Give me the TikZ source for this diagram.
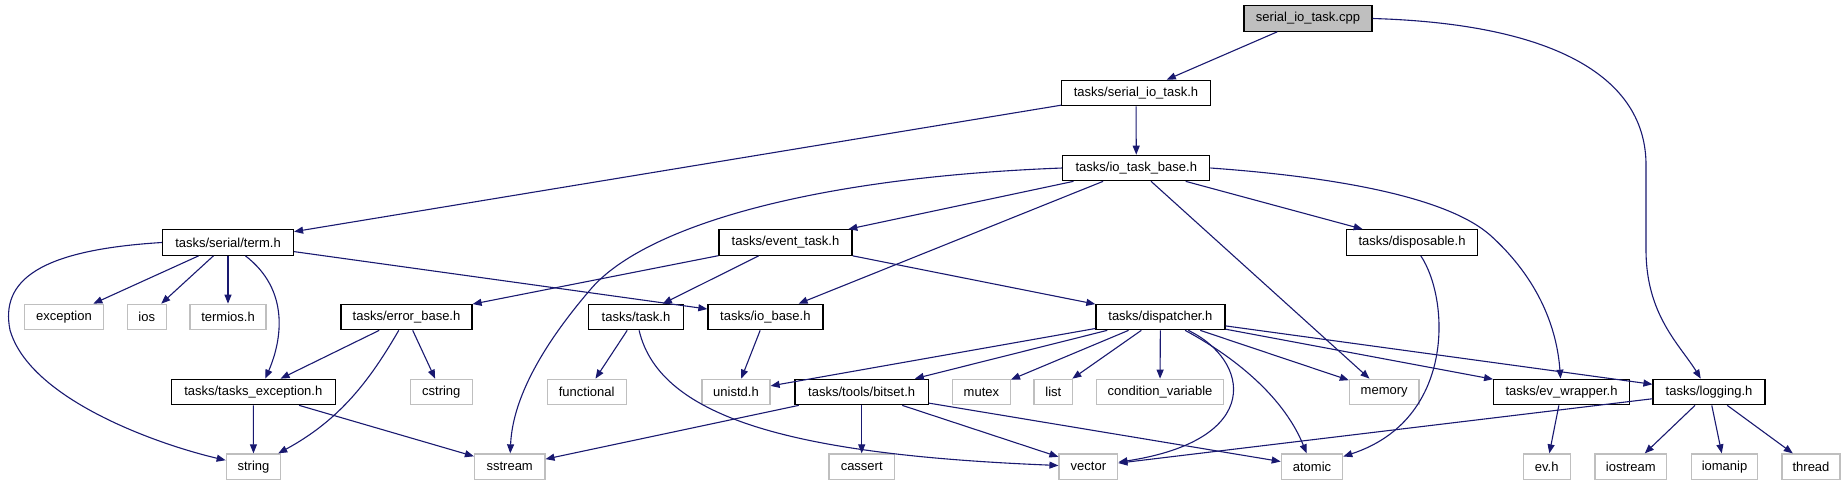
\documentclass[tikz,border=0pt]{standalone}
\usepackage{fontspec}
\setmainfont{Liberation Sans}
\usepackage{xcolor}
\usetikzlibrary{arrows.meta, positioning}

\definecolor{edgeblue}{HTML}{191970}
\definecolor{sysgray}{HTML}{BFBFBF}

\begin{document}
\begin{tikzpicture}[
    x=1pt, y=-1pt,
    hdr/.style={rectangle, draw=black, fill=white, line width=1.2pt, minimum height=25.5pt, inner sep=0pt, font=\fontsize{13}{15}\selectfont},
    sys/.style={hdr, draw=sysgray},
    top/.style={hdr, fill=sysgray},
    dep/.style={-{Triangle[length=9pt,width=7pt]}, line width=1.1pt, draw=edgeblue}
]
    \useasboundingbox (0,0) rectangle (1846,485);

    % Row 0 and 1
    \node[top, minimum width=128pt] (cpp) at (1308,18.5) {serial\_io\_task.cpp};
    \node[hdr, minimum width=149pt] (sio) at (1136,93) {tasks/serial\_io\_task.h};
    \node[hdr, minimum width=147pt] (iotb) at (1136.3,168) {tasks/io\_task\_base.h};

    % Row 3
    \node[hdr, minimum width=131pt] (term) at (228,242.5) {tasks/serial/term.h};
    \node[hdr, minimum width=133pt] (evtask) at (785.5,242.5) {tasks/event\_task.h};
    \node[hdr, minimum width=131pt] (dispos) at (1412,242.5) {tasks/disposable.h};

    % Row 4
    \node[sys, minimum width=79pt] (exc) at (64,317) {exception};
    \node[sys, minimum width=39pt] (ios) at (146.7,317) {ios};
    \node[sys, minimum width=76pt] (termios) at (228,317) {termios.h};
    \node[hdr, minimum width=131pt] (errbase) at (406.5,317) {tasks/error\_base.h};
    \node[hdr, minimum width=95pt] (task) at (636,317) {tasks/task.h};
    \node[hdr, minimum width=115pt] (iobase) at (765.4,317) {tasks/io\_base.h};
    \node[hdr, minimum width=129pt] (dispatch) at (1160.4,317) {tasks/dispatcher.h};

    % Row 5
    \node[hdr, minimum width=164pt] (tasksexc) at (253.3,392) {tasks/tasks\_exception.h};
    \node[sys, minimum width=62pt] (cstring) at (441.3,392) {cstring};
    \node[sys, minimum width=79pt] (functional) at (586.7,392) {functional};
    \node[sys, minimum width=68pt] (unistd) at (736,392) {unistd.h};
    \node[hdr, minimum width=133.5pt] (bitset) at (861.7,392) {tasks/tools/bitset.h};
    \node[sys, minimum width=58pt] (mutex) at (981.4,392) {mutex};
    \node[sys, minimum width=38.6pt] (list) at (1053.3,392) {list};
    \node[sys, minimum width=127pt] (condvar) at (1160,392) {condition\_variable};
    \node[sys, minimum width=69.6pt] (memory) at (1384.2,392) {memory};
    \node[hdr, minimum width=135.7pt] (evwrap) at (1561.5,392) {tasks/ev\_wrapper.h};
    \node[hdr, minimum width=112pt] (logging) at (1709,392) {tasks/logging.h};

    % Row 6
    \node[sys, minimum width=54.5pt] (string) at (253.5,466.7) {string};
    \node[sys, minimum width=70.4pt] (sstream) at (509.7,466.7) {sstream};
    \node[sys, minimum width=65.5pt] (cassert) at (861.7,466.7) {cassert};
    \node[sys, minimum width=58.8pt] (vector) at (1088.4,466.7) {vector};
    \node[sys, minimum width=61.4pt] (atomic) at (1312,466.7) {atomic};
    \node[sys, minimum width=46.8pt] (evh) at (1546.7,466.7) {ev.h};
    \node[sys, minimum width=71.8pt] (iostream) at (1630.8,466.7) {iostream};
    \node[sys, minimum width=65.6pt] (iomanip) at (1724.5,466.7) {iomanip};
    \node[sys, minimum width=58pt] (thread) at (1811,466.7) {thread};

    % Arrows from the top
    \draw[dep] (cpp) -- (sio);
    \draw[dep] (cpp.east) .. controls (1560,24) and (1646,80) .. (1646,165) -- (1646,250) .. controls (1646,315) and (1680,345) .. (logging);
    \draw[dep] (sio) -- (term);
    \draw[dep] (sio) -- (iotb);

    % io_task_base.h
    \draw[dep] (iotb.west) .. controls (800,178) and (640,230) .. (590,290) .. controls (530,360) and (512,410) .. (sstream);
    \draw[dep] (iotb) -- (evtask);
    \draw[dep] (iotb) -- (iobase);
    \draw[dep] (iotb) -- (memory);
    \draw[dep] (iotb) -- (dispos);
    \draw[dep] (iotb.east) .. controls (1350,178) and (1450,200) .. (1490,235) .. controls (1540,280) and (1557,330) .. (evwrap);

    % term.h
    \draw[dep] (term.west) .. controls (40,250) and (0,280) .. (10,330) .. controls (30,400) and (160,445) .. (string);
    \draw[dep] (term) -- (exc);
    \draw[dep] (term) -- (ios);
    \draw[dep] (term) -- (termios);
    \draw[dep] (term) .. controls (290,290) and (282,340) .. ([xshift=12pt]tasksexc.north);
    \draw[dep] (term) -- (iobase);

    % event_task.h
    \draw[dep] (evtask) -- (errbase);
    \draw[dep] (evtask) -- (task);
    \draw[dep] (evtask) -- (dispatch);

    % error_base.h, task.h, io_base.h
    \draw[dep] (errbase) -- (tasksexc);
    \draw[dep] (errbase) .. controls (370,380) and (340,420) .. (string);
    \draw[dep] (errbase) -- (cstring);
    \draw[dep] (task) -- (functional);
    \draw[dep] (task) .. controls (660,420) and (800,455) .. (vector);
    \draw[dep] (iobase) -- (unistd);

    % tasks_exception.h
    \draw[dep] (tasksexc) -- (string);
    \draw[dep] (tasksexc) -- (sstream);

    % dispatcher.h
    \draw[dep] (dispatch) -- (unistd);
    \draw[dep] (dispatch) -- (bitset);
    \draw[dep] (dispatch) -- (mutex);
    \draw[dep] (dispatch) -- (list);
    \draw[dep] (dispatch) -- (condvar);
    \draw[dep] (dispatch) .. controls (1250,360) and (1265,440) .. (vector);
    \draw[dep] (dispatch) .. controls (1240,360) and (1285,400) .. (atomic);
    \draw[dep] (dispatch) -- (memory);
    \draw[dep] (dispatch) -- (evwrap);
    \draw[dep] (dispatch) -- (logging);

    % disposable.h
    \draw[dep] (dispos) .. controls (1450,300) and (1455,420) .. (atomic);

    % bitset.h
    \draw[dep] (bitset) -- (sstream);
    \draw[dep] (bitset) -- (cassert);
    \draw[dep] (bitset) -- (vector);
    \draw[dep] (bitset) -- (atomic);

    % ev_wrapper.h and logging.h
    \draw[dep] (evwrap) -- (evh);
    \draw[dep] (logging) -- (vector);
    \draw[dep] (logging) -- (iostream);
    \draw[dep] (logging) -- (iomanip);
    \draw[dep] (logging) -- (thread);

\end{tikzpicture}
\end{document}
